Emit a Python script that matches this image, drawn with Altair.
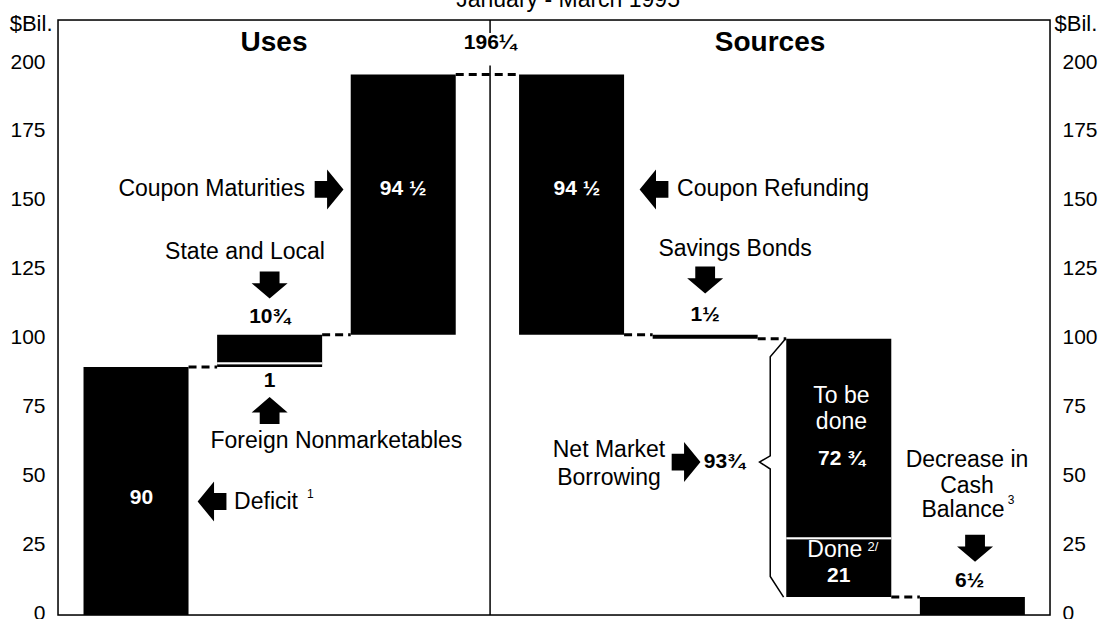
import altair as alt
import pandas as pd

# Treasury financing, January - March 1995, $ billions
use_items = ["Deficit", "Foreign Nonmarketables", "State and Local", "Coupon Maturities"]
use_values = [90, 1, 10.75, 94.5]
use_columns = [["Deficit"], ["Foreign Nonmarketables", "State and Local"], ["Coupon Maturities"]]

source_items = ["Coupon Refunding", "Savings Bonds", "To be done", "Done", "Decrease in Cash Balance"]
source_values = [94.5, 1.5, 72.75, 21, 6.5]
source_columns = [["Coupon Refunding"], ["Savings Bonds"], ["To be done", "Done"], ["Decrease in Cash Balance"]]

y_ticks = [0, 25, 50, 75, 100, 125, 150, 175, 200]

# layout (x in column-slot units, y in $ billions)
PLOT_W, PLOT_H = 992, 595
SOURCE_SHIFT = 0.26
HALF = 0.393
X_MIN, X_MAX = -0.584, 6.841
Y_MAX = 216
DIVIDER = 2.65
FONT = "Liberation Sans"


def src(j):
    return j + 3 + SOURCE_SHIFT


# ---- waterfall bars -------------------------------------------------------
bars, columns, seps = [], [], []
level = 0.0
for i, col in enumerate(use_columns):
    start = level
    for k, name in enumerate(col):
        v = use_values[use_items.index(name)]
        bars.append(dict(item=name, x=i - HALF, x2=i + HALF, y=level, y2=level + v))
        if k > 0:
            seps.append(dict(x=i - HALF, x2=i + HALF, y=level))
        level += v
    columns.append((i, start, level))
total = level
for j, col in enumerate(source_columns):
    c = src(j)
    start = level
    for k, name in enumerate(col):
        v = source_values[source_items.index(name)]
        bars.append(dict(item=name, x=c - HALF, x2=c + HALF, y=level - v, y2=level))
        if k > 0:
            seps.append(dict(x=c - HALF, x2=c + HALF, y=level))
        level -= v
    columns.append((c, start, level))

bars_df = pd.DataFrame(bars)
seps_df = pd.DataFrame(seps)

# dashed connectors between consecutive columns
links = []
for (c0, s0, e0), (c1, s1, e1) in zip(columns[:-1], columns[1:]):
    links.append(dict(x=c0 + HALF, x2=c1 - HALF, y=e0))
links_df = pd.DataFrame(links)

x_scale = alt.Scale(domain=[X_MIN, X_MAX], nice=False, zero=False)
y_scale = alt.Scale(domain=[0, Y_MAX], nice=False, zero=False)

axis_common = dict(
    values=y_ticks, domain=False, ticks=False, grid=False,
    labelFont=FONT, labelFontSize=21, labelColor="black", labelOffset=-2,
    title="$Bil.", titleAngle=0, titleBaseline="middle", titleY=3,
    titleFont=FONT, titleFontSize=22, titleFontWeight="normal", titleColor="black",
)
left_axis = alt.Axis(orient="left", labelPadding=13, titleAlign="right", titleX=-6, **axis_common)
right_axis = alt.Axis(orient="right", labelPadding=12, titleAlign="left", titleX=4, **axis_common)

X = lambda f="x": alt.X(f"{f}:Q", scale=x_scale, axis=None)

bar_layer = alt.Chart(bars_df).mark_rect(color="black").encode(
    x=X(), x2="x2:Q",
    y=alt.Y("y:Q", scale=y_scale, axis=left_axis), y2="y2:Q",
)
right_axis_layer = alt.Chart(bars_df).mark_rect(opacity=0).encode(
    x=X(), x2="x2:Q",
    y=alt.Y("y:Q", scale=y_scale, axis=right_axis), y2="y2:Q",
)
sep_layer = alt.Chart(seps_df).mark_rule(color="white", strokeWidth=2, yOffset=-1).encode(
    x=X(), x2="x2:Q", y=alt.Y("y:Q", scale=y_scale, axis=None),
)
link_layer = alt.Chart(links_df).mark_rule(color="black", strokeWidth=3, strokeDash=[8, 5]).encode(
    x=X(), x2="x2:Q", y=alt.Y("y:Q", scale=y_scale, axis=None),
)

# frame around the plotting area
frame_layer = alt.Chart(pd.DataFrame([{"f": 1}])).mark_rect(
    filled=False, stroke="black", strokeWidth=1.5
).encode(
    x=alt.value(0), x2=alt.value(PLOT_W), y=alt.value(0), y2=alt.value(PLOT_H),
)

# divider between uses and sources, broken around the total label
divider_df = pd.DataFrame([
    dict(x=DIVIDER, y=0, y2=199.5),
    dict(x=DIVIDER, y=211.3, y2=Y_MAX),
])
divider_layer = alt.Chart(divider_df).mark_rule(color="black", strokeWidth=1.5).encode(
    x=X(), y=alt.Y("y:Q", scale=y_scale, axis=None), y2="y2:Q",
)

# brace grouping the two net market borrowing pieces
nmb_top = columns[5][1]
nmb_bottom = columns[5][2]
NMB_Y = 55.5
bl = src(2) - HALF
brace_df = pd.DataFrame([
    dict(k=0, x=bl - 0.005, y=nmb_top),
    dict(k=1, x=bl - 0.12, y=nmb_top - 6.5),
    dict(k=2, x=bl - 0.12, y=NMB_Y + 2.3),
    dict(k=3, x=bl - 0.20, y=NMB_Y),
    dict(k=4, x=bl - 0.12, y=NMB_Y - 2.5),
    dict(k=5, x=bl - 0.12, y=nmb_bottom + 7.5),
    dict(k=6, x=bl - 0.02, y=nmb_bottom),
])
brace_layer = alt.Chart(brace_df).mark_line(color="black", strokeWidth=1.5).encode(
    x=X(), y=alt.Y("y:Q", scale=y_scale, axis=None), order="k:Q",
)

# block arrows
ARROWS = {
    "right": "M-0.72,-0.42 L-0.1,-0.42 L-0.1,-1 L0.72,0 L-0.1,1 L-0.1,0.42 L-0.72,0.42 Z",
    "left": "M0.72,-0.42 L0.1,-0.42 L0.1,-1 L-0.72,0 L0.1,1 L0.1,0.42 L0.72,0.42 Z",
    "down": "M-0.55,-0.75 L0.55,-0.75 L0.55,-0.1 L1,-0.1 L0,0.75 L-1,-0.1 L-0.55,-0.1 Z",
    "up": "M-0.55,0.75 L0.55,0.75 L0.55,0.1 L1,0.1 L0,-0.75 L-1,0.1 L-0.55,0.1 Z",
}
arrows_df = pd.DataFrame([
    dict(dir="right", x=1.445, y=154.5, size=1600),
    dict(dir="down", x=1.0, y=119.8, size=1296),
    dict(dir="up", x=1.0, y=74.2, size=1296),
    dict(dir="left", x=0.569, y=41.2, size=1600),
    dict(dir="left", x=3.877, y=154.5, size=1600),
    dict(dir="down", x=src(1), y=121.6, size=1296),
    dict(dir="right", x=4.117, y=NMB_Y, size=1600),
    dict(dir="down", x=src(3) + 0.02, y=24.2, size=1296),
])
arrow_layer = alt.Chart(arrows_df).mark_point(filled=True, opacity=1, color="black", strokeWidth=0).encode(
    x=X(), y=alt.Y("y:Q", scale=y_scale, axis=None),
    shape=alt.Shape("dir:N", scale=alt.Scale(domain=list(ARROWS), range=list(ARROWS.values())), legend=None),
    size=alt.Size("size:Q", scale=None),
)


def frac(v):
    whole = int(v)
    part = {0.25: "\u00bc", 0.5: "\u00bd", 0.75: "\u00be"}.get(round(v - whole, 2), "")
    return f"{whole}{part}"


# annotation texts: (text, x, y, size, colour, weight, align, baseline)
W, B = "white", "black"
notes = [
    ("January - March 1995", 3.234, 220.7, 23, B, "normal", "center", "alphabetic"),
    ("Uses", (X_MIN + DIVIDER) / 2, 207.5, 28, B, "bold", "center", "middle"),
    ("Sources", (DIVIDER + X_MAX) / 2, 207.5, 28, B, "bold", "center", "middle"),
    (frac(total), DIVIDER, 207.5, 21, B, "bold", "center", "middle"),
    ("Coupon Maturities", 1.265, 154.5, 23, B, "normal", "right", "middle"),
    ("94 " + frac(use_values[3])[-1], 2.0, 154.5, 21, W, "bold", "center", "middle"),
    ("State and Local", 0.816, 131.7, 23, B, "normal", "center", "middle"),
    (frac(use_values[2]), 1.0, 108.2, 21, B, "bold", "center", "middle"),
    (frac(use_values[1]), 1.0, 85.0, 21, B, "bold", "center", "middle"),
    ("Foreign Nonmarketables", 1.5, 63.0, 23, B, "normal", "center", "middle"),
    (frac(use_values[0]), 0.04, 42.3, 21, W, "bold", "center", "middle"),
    ("Deficit", 0.734, 41.2, 23, B, "normal", "left", "middle"),
    ("1", 1.28, 44.0, 12, B, "normal", "left", "middle"),
    ("94 " + frac(source_values[0])[-1], src(0) + 0.04, 154.5, 21, W, "bold", "center", "middle"),
    ("Coupon Refunding", 4.05, 154.5, 23, B, "normal", "left", "middle"),
    ("Savings Bonds", 4.484, 132.8, 23, B, "normal", "center", "middle"),
    (frac(source_values[1]), src(1), 108.9, 21, B, "bold", "center", "middle"),
    ("Net Market", 3.54, 59.9, 23, B, "normal", "center", "middle"),
    ("Borrowing", 3.54, 49.6, 23, B, "normal", "center", "middle"),
    (frac(source_values[2] + source_values[3]), 4.25, NMB_Y, 21, B, "bold", "left", "middle"),
    ("To be", src(2) + 0.02, 79.6, 23, W, "normal", "center", "middle"),
    ("done", src(2) + 0.02, 70.2, 23, W, "normal", "center", "middle"),
    ("72 " + frac(source_values[2])[-1], src(2) + 0.02, 56.8, 21, W, "bold", "center", "middle"),
    ("Done", src(2) - 0.03, 23.5, 23, W, "normal", "center", "middle"),
    ("2/", src(2) + 0.215, 24.6, 13, W, "normal", "left", "middle"),
    (frac(source_values[3]), src(2), 14.1, 21, W, "bold", "center", "middle"),
    ("Decrease in", src(3) - 0.04, 56.1, 23, B, "normal", "center", "middle"),
    ("Cash", src(3) - 0.04, 47.0, 23, B, "normal", "center", "middle"),
    ("Balance", src(3) - 0.07, 38.0, 23, B, "normal", "center", "middle"),
    ("3", src(3) + 0.265, 41.8, 12, B, "normal", "left", "middle"),
    (frac(source_values[4]), src(3) - 0.02, 12.3, 21, B, "bold", "center", "middle"),
]
notes_df = pd.DataFrame(notes, columns=["text", "x", "y", "size", "color", "weight", "align", "baseline"])

text_layers = []
for (weight, align, baseline), grp in notes_df.groupby(["weight", "align", "baseline"]):
    text_layers.append(
        alt.Chart(grp).mark_text(font=FONT, fontWeight=weight, align=align, baseline=baseline).encode(
            x=X(), y=alt.Y("y:Q", scale=y_scale, axis=None),
            text="text:N",
            size=alt.Size("size:Q", scale=None),
            color=alt.Color("color:N", scale=None),
        )
    )

chart = alt.layer(
    bar_layer, right_axis_layer, sep_layer, link_layer, divider_layer, brace_layer,
    arrow_layer, frame_layer, *text_layers
).resolve_axis(y="independent").properties(
    width=PLOT_W, height=PLOT_H,
    autosize=alt.AutoSizeParams(type="none"),
    padding={"left": 58, "top": 20, "right": 55, "bottom": 4},
).configure_view(stroke=None).configure(background="white")

chart.save("out.html", embed_options={"renderer": "svg", "actions": False})
